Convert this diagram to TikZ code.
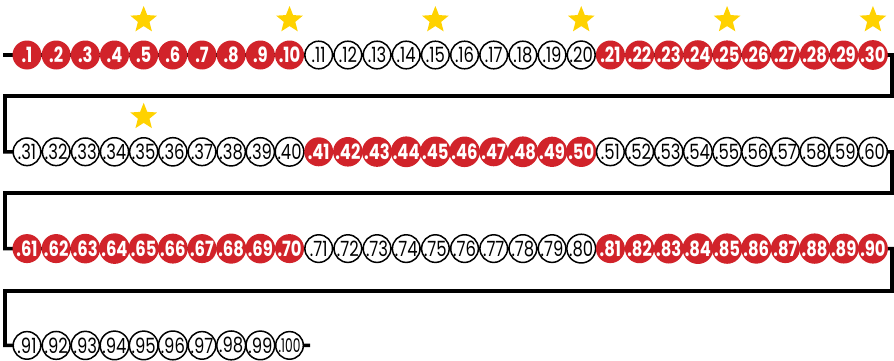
\documentclass[tikz,border=0pt]{standalone}
\usepackage{fontspec}
\setmainfont{Poppins}
\usetikzlibrary{shapes.geometric,positioning,calc,backgrounds}
\definecolor{beadred}{HTML}{D1232A}
\definecolor{stargold}{HTML}{FFD200}

\begin{document}
\begin{tikzpicture}[x=1pt, y=1pt,
  track/.style={line width=3.6pt},
  redbead/.style={circle, fill=beadred, text=white, minimum size=29pt, inner sep=0pt, font=\fontsize{21}{21}\selectfont\bfseries},
  whitebead/.style={circle, draw, line width=1.5pt, fill=white, minimum size=27.6pt, inner sep=0pt, font=\fontsize{21}{21}\selectfont},
  goldstar/.style={star, star points=5, star point ratio=2.3, fill=stargold, minimum size=28pt, inner sep=0pt}
]
  \useasboundingbox (0,0) rectangle (894,360);

  % beads, 30 to a row, colour changes every ten
  \foreach \n in {1,...,100} {
    \pgfmathtruncatemacro\row{(\n-1)/30}
    \pgfmathtruncatemacro\col{mod(\n-1,30)}
    \pgfmathtruncatemacro\grp{(\n-1)/10}
    \ifodd\grp
      \def\beadstyle{whitebead}
    \else
      \def\beadstyle{redbead}
    \fi
    \ifnum\n=100
      \node[\beadstyle] (c\n) at (27+\col*29.17, 305-\row*96.8) {\scalebox{0.58}[0.9]{.\n}};
    \else
      \node[\beadstyle] (c\n) at (27+\col*29.17, 305-\row*96.8) {\scalebox{0.78}[1]{.\n}};
    \fi
  }

  \coordinate (start) at (3,305);
  \coordinate (end) at (310,14.6);
  \coordinate (down1) at (892,264);
  \coordinate (back1) at (5,264);
  \coordinate (down2) at (892,167);
  \coordinate (back2) at (5,167);
  \coordinate (down3) at (892,69);
  \coordinate (back3) at (5,69);

  \begin{scope}[on background layer]
    \draw[track] (start) -- (c30.center) -| (down1) -- (back1) |- (c31.center)
      -- (c60.center) -| (down2) -- (back2) |- (c61.center)
      -- (c90.center) -| (down3) -- (back3) |- (c91.center) -- (end);
  \end{scope}

  % stars every fifth bead
  \foreach \n in {5,10,...,35}
    \node[goldstar] (star\n) at ([yshift=35pt]c\n.center) {};
\end{tikzpicture}
\end{document}
